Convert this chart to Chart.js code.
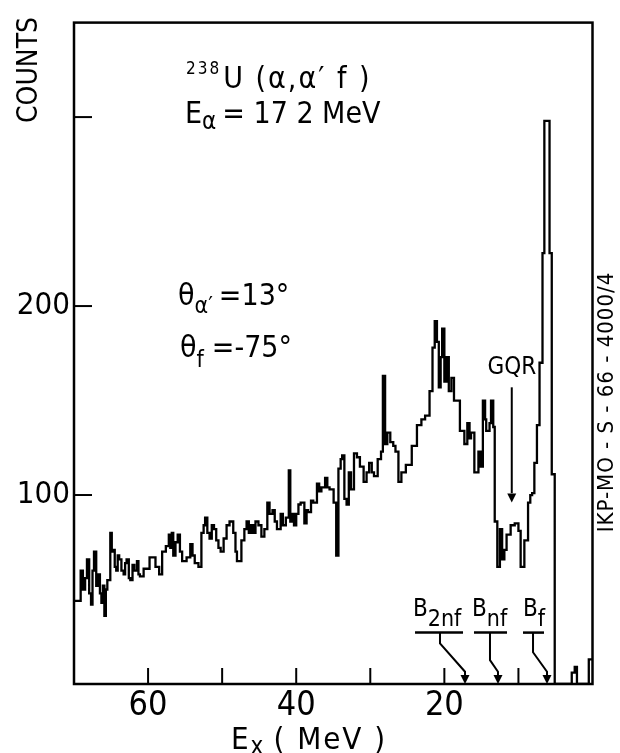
<!DOCTYPE html>
<html>
<head>
<meta charset="utf-8">
<script src="https://cdn.jsdelivr.net/npm/chart.js@4.4.1/dist/chart.umd.min.js"></script>
<style>
  body { margin: 0; background: #fff; }
  canvas { display: block; }
</style>
</head>
<body>
<canvas id="spectrum" width="620" height="753"></canvas>
<script>
// excitation energy (MeV) where each histogram step starts, read left to right
var energies = [
  70.0, 69.1, 68.8, 68.5, 68.25, 67.95, 67.7, 67.5, 67.3, 67.0, 66.75, 66.5, 66.3, 66.1, 65.9, 65.7,
  65.5, 65.1, 64.9, 64.7, 64.5, 64.3, 64.1, 63.9, 63.6, 63.3, 63.1, 62.9, 62.6, 62.4, 62.1, 61.85,
  61.5, 61.3, 61.1, 60.6, 59.8, 59.0, 58.5, 58.1, 57.6, 57.2, 57.0, 56.8, 56.6, 56.3, 56.0, 55.7,
  55.4, 54.8, 54.3, 54.0, 53.7, 53.2, 52.8, 52.5, 52.3, 52.0, 51.7, 51.4, 51.1, 50.8, 50.5, 50.2,
  49.8, 49.4, 49.0, 48.5, 48.2, 48.0, 47.4, 47.0, 46.7, 46.4, 46.1, 45.8, 45.5, 45.1, 44.7, 44.3,
  43.9, 43.6, 43.2, 42.9, 42.6, 42.1, 41.8, 41.4, 41.0, 40.8, 40.6, 40.3, 40.0, 39.7, 39.4, 38.9,
  38.6, 38.4, 38.0, 37.7, 37.2, 36.9, 36.6, 36.1, 35.8, 35.5, 34.95, 34.6, 34.3, 34.0, 33.8, 33.5,
  33.2, 32.9, 32.6, 32.2, 31.8, 31.4, 30.9, 30.5, 30.15, 29.8, 29.5, 29.0, 28.55, 28.3, 28.0, 27.7,
  27.3, 26.9, 26.6, 26.2, 25.8, 25.2, 24.4, 23.7, 23.1, 22.6, 22.0, 21.6, 21.3, 21.0, 20.75, 20.5,
  20.3, 20.0, 19.7, 19.4, 19.05, 18.7, 17.9, 17.3, 16.9, 16.6, 16.4, 15.95, 15.4, 15.1, 14.8, 14.5,
  14.35, 13.9, 13.7, 13.4, 13.2, 12.85, 12.5, 12.2, 11.9, 11.6, 11.05, 10.5, 10.0, 9.7, 9.2, 8.7,
  8.4, 8.15, 7.85, 7.5, 7.15, 6.75, 6.5, 5.8, 5.5, 5.1, 2.8, 2.4, 2.1, 0.5, 0.0
];
var counts = [
  44, 60, 50, 56, 66, 48, 42, 60, 70, 52, 58, 48, 43, 52, 36, 50,
  55, 80, 70, 71, 62, 60, 68, 66, 60, 58, 64, 66, 56, 55, 63, 60,
  65, 58, 57, 61, 67, 62, 58, 70, 73, 79, 72, 80, 68, 75, 79, 70,
  65, 67, 74, 68, 64, 62, 80, 84, 88, 80, 77, 84, 82, 76, 72, 70,
  77, 84, 86, 80, 70, 65, 76, 82, 86, 80, 84, 80, 86, 84, 78, 82,
  96, 90, 92, 86, 82, 90, 84, 88, 113, 86, 90, 84, 90, 95, 96, 85,
  92, 91, 97, 96, 106, 102, 104, 109, 104, 103, 96, 68, 114, 119, 121, 98,
  95, 112, 103, 122, 120, 115, 107, 112, 117, 112, 110, 119, 123, 163, 127, 133,
  128, 126, 123, 107, 112, 116, 126, 137, 140, 142, 155, 178, 192, 181, 157, 173,
  188, 160, 173, 155, 162, 150, 134, 127, 138, 130, 133, 112, 123, 115, 150, 140,
  134, 138, 150, 136, 86, 62, 82, 66, 71, 79, 84, 85, 81, 62, 76, 96,
  100, 101, 117, 137, 170, 228, 298, 228, 111, 0, 6, 9, 0, 13, 13
];
var xLabels = [60, 40, 20];
var yLabels = [100, 200];

var FONT = '"DejaVu Sans Condensed", "DejaVu Sans", sans-serif';

var points = energies.map(function (e, i) { return { x: e, y: counts[i] }; });

// draws text pieces one after another, each with its own size and baseline shift
function runs(ctx, x, y, parts, spacing) {
  ctx.textAlign = 'left';
  ctx.textBaseline = 'alphabetic';
  ctx.letterSpacing = (spacing || 0) + 'px';
  parts.forEach(function (p) {
    ctx.font = p[1] + 'px ' + FONT;
    ctx.fillText(p[0], x, y + (p[2] || 0));
    x += ctx.measureText(p[0]).width + (p[3] || 0);
  });
  ctx.letterSpacing = '0px';
}

function arrowHead(ctx, px, py) {
  ctx.beginPath();
  ctx.moveTo(px - 4.5, py - 9);
  ctx.lineTo(px + 4.5, py - 9);
  ctx.lineTo(px, py);
  ctx.closePath();
  ctx.fill();
}

var decorations = {
  id: 'decorations',
  afterDatasetsDraw: function (chart) {
    var ctx = chart.ctx, a = chart.chartArea, sx = chart.scales.x, sy = chart.scales.y;
    function X(v) { return sx.getPixelForValue(v); }
    function Y(v) { return sy.getPixelForValue(v); }
    ctx.save();
    ctx.strokeStyle = '#000';
    ctx.fillStyle = '#000';
    ctx.lineCap = 'butt';

    // frame
    ctx.lineWidth = 2.5;
    ctx.strokeRect(a.left, a.top, a.right - a.left, a.bottom - a.top);

    // inward ticks
    ctx.lineWidth = 2;
    sx.ticks.forEach(function (t) {
      if (t.value <= 0 || t.value >= 70) return;
      ctx.beginPath(); ctx.moveTo(X(t.value), a.bottom); ctx.lineTo(X(t.value), a.bottom - 16); ctx.stroke();
    });
    sy.ticks.forEach(function (t) {
      if (t.value <= 0 || t.value % 100 !== 0) return;
      ctx.beginPath(); ctx.moveTo(a.left, Y(t.value)); ctx.lineTo(a.left + 18, Y(t.value)); ctx.stroke();
    });

    // barrier markers
    var marks = [
      { txt: [['B', 24], ['2nf', 23, 10]], tx: 24.23, u0: 23.96, u1: 17.48, lead: 20.59, knee: 21.5, tip: 17.21 },
      { txt: [['B', 24], ['nf', 23, 10]], tx: 16.27, u0: 16.0, u1: 11.54, lead: 13.84, knee: 12.6, tip: 12.76 },
      { txt: [['B', 24], ['f', 23, 10]], tx: 9.38, u0: 9.38, u1: 6.55, lead: 8.03, knee: 16.8, tip: 6.14 }
    ];
    marks.forEach(function (m) {
      runs(ctx, X(m.tx), Y(36), m.txt);
      ctx.lineWidth = 2.5;
      ctx.beginPath(); ctx.moveTo(X(m.u0), Y(27.2)); ctx.lineTo(X(m.u1), Y(27.2)); ctx.stroke();
      ctx.lineWidth = 2;
      ctx.beginPath();
      ctx.moveTo(X(m.lead), Y(27.2));
      ctx.lineTo(X(m.lead), Y(m.knee));
      ctx.lineTo(X(m.tip), Y(6.5));
      ctx.lineTo(X(m.tip), a.bottom - 6);
      ctx.stroke();
      arrowHead(ctx, X(m.tip), a.bottom);
    });

    // GQR arrow
    ctx.font = '24px ' + FONT;
    ctx.textAlign = 'center';
    ctx.textBaseline = 'middle';
    ctx.fillText('GQR', X(10.9), Y(167.5));
    ctx.lineWidth = 2;
    ctx.beginPath(); ctx.moveTo(X(10.9), Y(157)); ctx.lineTo(X(10.9), Y(101)); ctx.stroke();
    arrowHead(ctx, X(10.9), Y(96));

    // reaction info
    runs(ctx, 186, 88, [['238', 17, -14, 2], ['U (α,α′ f )', 30]], 2);
    runs(ctx, 185, 123, [['E', 30], ['α', 24, 6, 6], ['= 17 2 MeV', 30]]);
    runs(ctx, 178, 305, [['θ', 30], ['α′', 23, 8, 6], ['=13°', 30]]);
    runs(ctx, 180, 357, [['θ', 30], ['f', 23, 10, 8], ['=-75°', 30]]);

    // axis titles
    ctx.save();
    ctx.translate(30, 70);
    ctx.rotate(-Math.PI / 2);
    ctx.font = '28px ' + FONT;
    ctx.textAlign = 'center';
    ctx.textBaseline = 'middle';
    ctx.fillText('COUNTS', 0, 0);
    ctx.restore();

    runs(ctx, 231, 749, [['E', 31], ['x', 24, 5, 8], ['( MeV )', 31]], 2);

    ctx.save();
    ctx.translate(607, 402);
    ctx.rotate(-Math.PI / 2);
    ctx.font = '22px ' + FONT;
    ctx.textAlign = 'center';
    ctx.textBaseline = 'middle';
    ctx.letterSpacing = '1px';
    ctx.fillText('IKP-MO - S - 66 - 4000/4', 0, 0);
    ctx.restore();

    ctx.restore();
  }
};

new Chart(document.getElementById('spectrum'), {
  type: 'line',
  data: {
    datasets: [{
      data: points,
      stepped: true,
      borderColor: '#000',
      borderWidth: 2.3,
      pointRadius: 0,
      fill: false
    }]
  },
  options: {
    responsive: false,
    animation: false,
    layout: { padding: { left: 0, right: 27.5, top: 15.5, bottom: 0 } },
    plugins: { legend: { display: false }, tooltip: { enabled: false } },
    scales: {
      x: {
        type: 'linear',
        reverse: true,
        min: 0,
        max: 70,
        grid: { display: false, drawTicks: false },
        border: { display: false },
        ticks: {
          stepSize: 10,
          autoSkip: false,
          maxRotation: 0,
          padding: 2,
          color: '#000',
          font: { family: FONT, size: 34 },
          callback: function (v) { return xLabels.indexOf(v) >= 0 ? String(v) : ''; }
        },
        afterFit: function (s) { s.height = 69; }
      },
      y: {
        min: 0,
        max: 350,
        grid: { display: false, drawTicks: false },
        border: { display: false },
        ticks: {
          stepSize: 100,
          padding: 4,
          color: '#000',
          font: { family: FONT, size: 31 },
          callback: function (v) { return yLabels.indexOf(v) >= 0 ? String(v) : ''; }
        },
        afterFit: function (s) { s.width = 74; }
      }
    }
  },
  plugins: [decorations]
});
</script>
</body>
</html>
